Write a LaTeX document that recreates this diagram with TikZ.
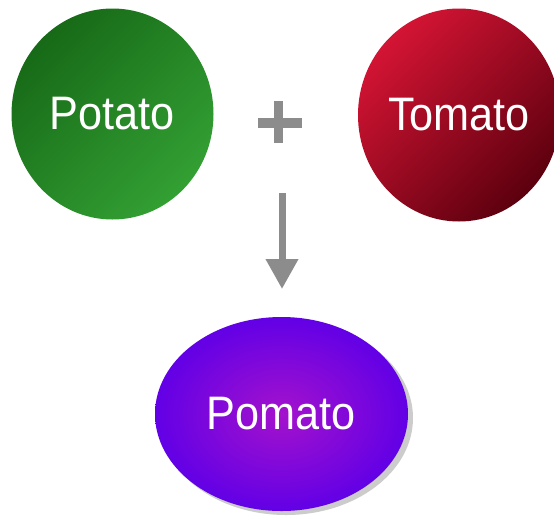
\documentclass[tikz,border=0pt]{standalone}
\usepackage{fontspec}
\setmainfont{Liberation Sans}
\usetikzlibrary{arrows.meta,shapes.geometric}
\definecolor{potdark}{HTML}{176A17}
\definecolor{potlight}{HTML}{33A033}
\definecolor{tomlight}{HTML}{D41434}
\definecolor{tomdark}{HTML}{5C000E}
\definecolor{pominner}{HTML}{A412CC}
\definecolor{pomouter}{HTML}{6200E6}
\definecolor{arrowgray}{HTML}{8C8C8C}
\newcommand{\lbl}[1]{\scalebox{0.92}[1]{#1}}
\tikzset{
  ball/.style={ellipse, inner sep=0pt, text=white,
    font=\fontsize{47}{47}\selectfont},
  potball/.style={ball, top color=potdark, bottom color=potlight, shading angle=45},
  tomball/.style={ball, top color=tomlight, bottom color=tomdark, shading angle=45},
  pomball/.style={ball, inner color=pominner, outer color=pomouter},
  plusbar/.style={line width=9.5pt, draw=arrowgray},
  flow/.style={line width=7pt, draw=arrowgray, -{Triangle[width=31pt,length=30pt]}}
}
\begin{document}
\begin{tikzpicture}[x=1pt,y=-1pt]
\useasboundingbox (0,0) rectangle (554,520);
\fill[white] (0,0) rectangle (554,520);
\begin{scope}
\clip (0,0) rectangle (554,520);
\node[potball, minimum width=202pt, minimum height=211pt] (potato) at (112.5,114) {\lbl{Potato}};
\node[tomball, minimum width=202pt, minimum height=213pt] (tomato) at (459,115) {\lbl{Tomato}};
\end{scope}
\coordinate (plusL) at (258,123);
\coordinate (plusR) at (302,123);
\coordinate (plusT) at (278.5,101);
\coordinate (plusB) at (278.5,143);
\draw[plusbar] (plusL) -- (plusR);
\draw[plusbar] (plusT) -- (plusB);
\fill[gray!40] (286,418) ellipse [x radius=127pt, y radius=97pt];
\node[pomball, minimum width=253pt, minimum height=194pt] (pomato) at (281.5,414) {\lbl{Pomato}};
\coordinate (arrowstart) at (282,193);
\coordinate (arrowend) at (282,289);
\draw[flow] (arrowstart) -- (arrowend);
\end{tikzpicture}
\end{document}
